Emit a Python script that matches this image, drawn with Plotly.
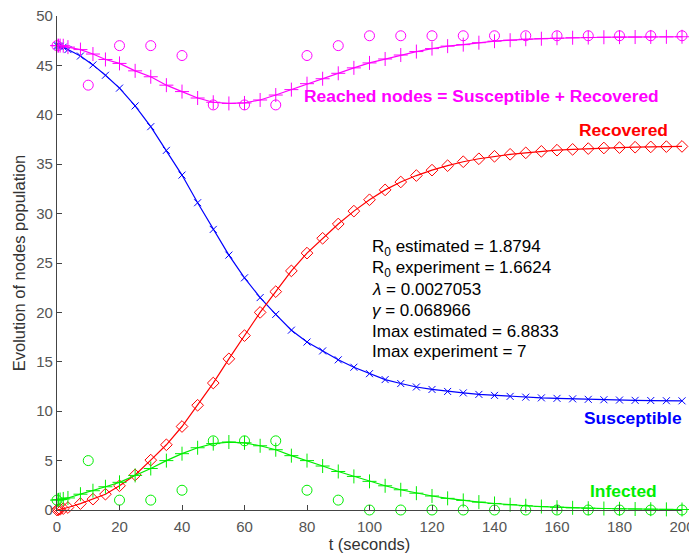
import plotly.graph_objects as go

# ---- model time points (ODE solver output) ----
t_model = [0, 0.5, 1, 2, 3.5, 7.5, 11.5, 15.5,
           20, 25, 30, 35, 40, 45, 50, 55, 60, 65, 70, 75, 80, 85, 90, 95,
           100, 105, 110, 115, 120, 125, 130, 135, 140, 145, 150, 155, 160,
           165, 170, 175, 180, 185, 190, 195, 200]

susceptible = [47.0, 46.97, 46.93, 46.85, 46.6, 45.95, 45.05, 44.0,
               42.7, 40.9, 38.8, 36.4, 33.9, 31.1, 28.4, 25.8, 23.5, 21.5, 19.8, 18.2, 17.0, 16.1, 15.2, 14.45,
               13.8, 13.2, 12.8, 12.45, 12.2, 12.0, 11.85, 11.7, 11.6, 11.5, 11.42, 11.35, 11.3,
               11.25, 11.2, 11.16, 11.13, 11.1, 11.08, 11.06, 11.05]

infected = [1.0, 1.03, 1.06, 1.12, 1.22, 1.6, 1.95, 2.35,
            2.8, 3.5, 4.2, 5.0, 5.7, 6.3, 6.72, 6.88, 6.8, 6.5, 6.1, 5.5, 5.0, 4.45, 3.9, 3.4,
            2.9, 2.45, 2.05, 1.7, 1.42, 1.18, 0.97, 0.8, 0.66, 0.53, 0.43, 0.35, 0.28,
            0.22, 0.18, 0.15, 0.12, 0.1, 0.08, 0.065, 0.05]

recovered = [0.0, 0.03, 0.07, 0.14, 0.25, 0.65, 1.1, 1.6,
             2.45, 3.55, 5.05, 6.6, 8.45, 10.6, 12.85, 15.3, 17.65, 20.0, 22.1, 24.2, 26.0, 27.5, 28.95, 30.25,
             31.4, 32.4, 33.2, 33.85, 34.4, 34.85, 35.25, 35.55, 35.8, 36.0, 36.15, 36.3, 36.42,
             36.5, 36.58, 36.64, 36.68, 36.72, 36.75, 36.78, 36.8]

reached = [47.0, 47.0, 47.0, 46.99, 46.85, 46.6, 46.15, 45.6,
           45.2, 44.45, 43.85, 43.0, 42.35, 41.7, 41.27, 41.15, 41.2, 41.5, 42.0, 42.55, 43.15, 43.65, 44.2, 44.75,
           45.25, 45.65, 46.05, 46.4, 46.7, 46.95, 47.1, 47.3, 47.45, 47.55, 47.65, 47.7, 47.75,
           47.8, 47.82, 47.85, 47.86, 47.87, 47.88, 47.89, 47.9]

# ---- experimental observations ----
t_exp = [0, 10, 20, 30, 40, 50, 60, 70, 80, 90, 100, 110, 120, 130, 140, 150, 160, 170, 180, 190, 200]
infected_exp = [1, 5, 1, 1, 2, 7, 7, 7, 2, 1, 0, 0, 0, 0, 0, 0, 0, 0, 0, 0, 0]
reached_exp = [47, 43, 47, 47, 46, 41, 41, 41, 46, 47, 48, 48, 48, 48, 48, 48, 48, 48, 48, 48, 48]

info_lines = ["R<sub>0</sub> estimated = 1.8794",
              "R<sub>0</sub> experiment = 1.6624",
              "<i>λ</i> = 0.0027053",
              "<i>γ</i> = 0.068966",
              "Imax estimated = 6.8833",
              "Imax experiment = 7"]

BLUE, RED, GREEN, MAG = "#0000ff", "#ff0000", "#00ee00", "#ff00ff"
FONT = "Liberation Sans, Arial, sans-serif"

fig = go.Figure()

def line_trace(y, color, symbol, size, name):
    fig.add_trace(go.Scatter(
        x=t_model, y=y, mode="lines+markers", name=name,
        line=dict(color=color, width=1.2),
        marker=dict(symbol=symbol, size=size, color=color,
                    line=dict(color=color, width=1)),
        cliponaxis=False, showlegend=False))

line_trace(susceptible, BLUE, "x-thin", 7, "Susceptible")
line_trace(recovered, RED, "diamond-open", 9, "Recovered")
line_trace(infected, GREEN, "cross-thin", 10, "Infected")
line_trace(reached, MAG, "cross-thin", 10, "Reached")

for y, color, name in [(infected_exp, GREEN, "Infected (exp)"),
                       (reached_exp, MAG, "Reached (exp)")]:
    fig.add_trace(go.Scatter(
        x=t_exp, y=y, mode="markers", name=name,
        marker=dict(symbol="circle-open", size=10, color=color,
                    line=dict(color=color, width=1)),
        cliponaxis=False, showlegend=False))

labels = [("Reached nodes = Susceptible + Recovered", MAG, 78.5, 41.9),
          ("Recovered", RED, 166.5, 38.5),
          ("Susceptible", BLUE, 168, 9.3),
          ("Infected", GREEN, 170, 1.9)]
for text, color, x, y in labels:
    fig.add_annotation(x=x, y=y, xref="x", yref="y", text="<b>%s</b>" % text,
                       showarrow=False, xanchor="left", yanchor="middle",
                       font=dict(family=FONT, size=17.4, color=color))

info_y = [26.5, 24.4, 22.3, 20.2, 18.1, 16.0]
for text, y in zip(info_lines, info_y):
    fig.add_annotation(x=100.3, y=y, xref="x", yref="y", text=text,
                       showarrow=False, xanchor="left", yanchor="middle",
                       font=dict(family=FONT, size=17, color="#000000"))

axis_common = dict(showgrid=False, zeroline=False, showline=True,
                   linecolor="#444444", linewidth=1.2,
                   ticks="inside", ticklen=5, tickcolor="#444444",
                   tickfont=dict(family=FONT, size=15, color="#555555"),
                   ticklabeloverflow="allow", automargin=False,
                   mirror=False)

fig.update_layout(
    width=689, height=558,
    margin=dict(l=57, r=7, t=16, b=48, autoexpand=False),
    paper_bgcolor="white", plot_bgcolor="white",
    xaxis=dict(range=[0, 200], tickvals=list(range(0, 201, 20)),
               title=dict(text="t (seconds)", standoff=4,
                          font=dict(family=FONT, size=16.5, color="#333333")),
               ticklabelstandoff=3,
               **axis_common),
    yaxis=dict(range=[0, 50], tickvals=list(range(0, 51, 5)),
               title=dict(text="Evolution of nodes population", standoff=6,
                          font=dict(family=FONT, size=16.5, color="#333333")),
               **axis_common),
)

fig.write_html("out.html")
